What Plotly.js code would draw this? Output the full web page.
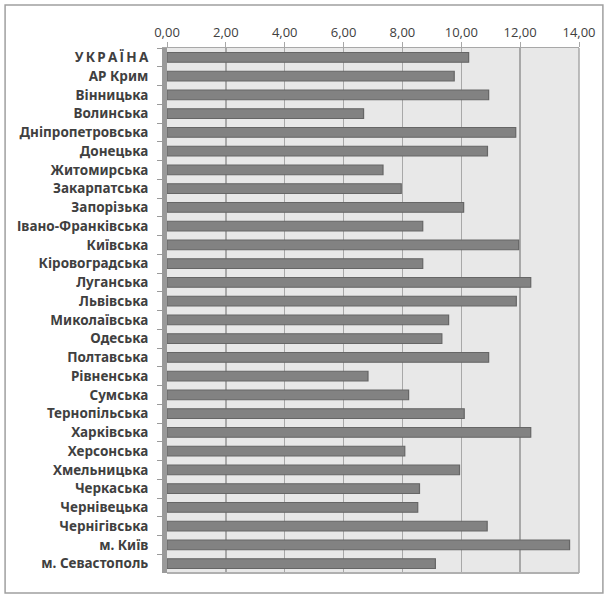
<!DOCTYPE html>
<html>
<head>
<meta charset="utf-8">
<script src="https://cdn.plot.ly/plotly-3.0.1.min.js"></script>
<style>html,body{margin:0;padding:0;background:#fff;}#chart{width:608px;height:598px;}</style>
</head>
<body>
<div id="chart"></div>
<script>
var regions = ["У\u2009К\u2009Р\u2009А\u2009Ї\u2009Н\u2009А","АР Крим","Вінницька","Волинська","Дніпропетровська","Донецька","Житомирська","Закарпатська","Запорізька","Івано-Франківська","Київська","Кіровоградська","Луганська","Львівська","Миколаївська","Одеська","Полтавська","Рівненська","Сумська","Тернопільська","Харківська","Херсонська","Хмельницька","Черкаська","Чернівецька","Чернігівська","м. Київ","м. Севастополь"];
var values = [10.25,9.76,10.93,6.68,11.85,10.89,7.34,7.96,10.08,8.69,11.95,8.69,12.36,11.87,9.57,9.34,10.93,6.83,8.21,10.10,12.36,8.08,9.94,8.58,8.52,10.88,13.68,9.12];
var xTicks = [0,2,4,6,8,10,12,14];

var trace = {
  type: 'bar', orientation: 'h',
  y: regions, x: values,
  marker: {color: '#828282', line: {color: '#666666', width: 1.2}},
  width: 0.52,
  hoverinfo: 'skip'
};
var layout = {
  width: 608, height: 598,
  margin: {l: 167, r: 29, t: 48, b: 25},
  paper_bgcolor: '#ffffff',
  plot_bgcolor: '#e8e8e8',
  separators: ', ',
  showlegend: false,
  font: {family: 'Open Sans, sans-serif', color: '#404040'},
  xaxis: {
    side: 'top', range: [0, 14], tickvals: xTicks, tickformat: '.2f',
    showgrid: true, gridcolor: '#a8a8a8', gridwidth: 1.5,
    zeroline: false, showline: true, linecolor: '#a8a8a8', mirror: false,
    ticks: 'outside', ticklen: 5, tickcolor: '#a8a8a8',
    tickfont: {size: 13, color: '#404040', family: 'Open Sans, sans-serif'},
    fixedrange: true
  },
  yaxis: {
    autorange: 'reversed', type: 'category',
    showline: true, linecolor: '#9a9a9a', linewidth: 5,
    ticks: 'outside', ticklen: 5, tickcolor: '#9a9a9a', tickson: 'boundaries',
    ticklabelstandoff: 11,
    tickfont: {size: 13.5, color: '#404040', family: 'Noto Sans, sans-serif', weight: 'bold'},
    showgrid: false, zeroline: false, fixedrange: true
  },
  shapes: [
    {type: 'rect', xref: 'paper', yref: 'paper', x0: -0.393, x1: 1.058, y0: -0.038, y1: 1.082,
     line: {color: '#a0a0a0', width: 1.5}, fillcolor: 'rgba(0,0,0,0)', layer: 'below'},
    {type: 'line', xref: 'paper', yref: 'paper', x0: 1, x1: 1, y0: 0, y1: 1,
     line: {color: '#a8a8a8', width: 1.5}},
    {type: 'line', xref: 'paper', yref: 'paper', x0: 0, x1: 1, y0: 0, y1: 0,
     line: {color: '#b0b0b0', width: 2}}
  ]
};
Plotly.newPlot('chart', [trace], layout, {displayModeBar: false, staticPlot: true});
</script>
</body>
</html>
